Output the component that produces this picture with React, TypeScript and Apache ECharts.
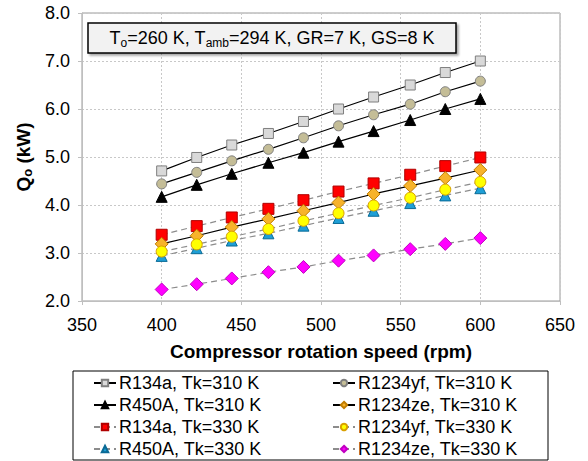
import React, { useEffect, useRef } from "react";
import * as echarts from "echarts";

const rpm = [400, 422, 444, 467, 489, 511, 533, 556, 578, 600];
const r134a310 = [4.71, 4.99, 5.25, 5.49, 5.74, 6.0, 6.25, 6.5, 6.76, 7.0];
const r1234yf310 = [4.44, 4.68, 4.92, 5.16, 5.4, 5.65, 5.88, 6.1, 6.36, 6.58];
const r450a310 = [4.17, 4.42, 4.65, 4.88, 5.09, 5.32, 5.54, 5.77, 6.0, 6.21];
const r1234ze310 = [3.19, 3.36, 3.54, 3.71, 3.88, 4.05, 4.23, 4.4, 4.56, 4.73];
const r134a330 = [3.38, 3.56, 3.74, 3.92, 4.1, 4.28, 4.45, 4.63, 4.81, 4.99];
const r1234yf330 = [3.03, 3.18, 3.34, 3.5, 3.67, 3.83, 3.99, 4.15, 4.32, 4.48];
const r450a330 = [2.94, 3.1, 3.26, 3.41, 3.57, 3.73, 3.88, 4.04, 4.2, 4.35];
const r1234ze330 = [2.24, 2.35, 2.47, 2.6, 2.71, 2.84, 2.95, 3.08, 3.19, 3.31];

const xTicks = [350, 400, 450, 500, 550, 600, 650];
const yTicks = [2, 3, 4, 5, 6, 7, 8];

const FONT = "'Liberation Sans', Arial, sans-serif";

type Spec = {
  name: string;
  values: number[];
  symbol: string;
  fill: string;
  border: string;
  size: number;
  dashed: boolean;
};

const specs: Spec[] = [
  { name: "R134a, Tk=310 K", values: r134a310, symbol: "rect", fill: "#d9d9d9", border: "#7f7f7f", size: 10, dashed: false },
  { name: "R450A, Tk=310 K", values: r450a310, symbol: "triangle", fill: "#000000", border: "#000000", size: 11, dashed: false },
  { name: "R134a, Tk=330 K", values: r134a330, symbol: "rect", fill: "#ff0000", border: "#b00000", size: 11, dashed: true },
  { name: "R450A, Tk=330 K", values: r450a330, symbol: "triangle", fill: "#1e9fd6", border: "#0a6a96", size: 11, dashed: true },
  { name: "R1234yf, Tk=310 K", values: r1234yf310, symbol: "circle", fill: "#c4bd97", border: "#7f7f7f", size: 10, dashed: false },
  { name: "R1234ze, Tk=310 K", values: r1234ze310, symbol: "diamond", fill: "#f7b32b", border: "#c07d00", size: 13, dashed: false },
  { name: "R1234yf, Tk=330 K", values: r1234yf330, symbol: "circle", fill: "#ffff00", border: "#d9a000", size: 11, dashed: true },
  { name: "R1234ze, Tk=330 K", values: r1234ze330, symbol: "diamond", fill: "#ff00ff", border: "#c000c0", size: 13, dashed: true },
];

export default function App() {
  const ref = useRef<HTMLDivElement>(null);
  useEffect(() => {
    if (!ref.current) return;
    const chart = echarts.init(ref.current, undefined, { renderer: "svg" });
    const series = specs.map((s) => ({
      name: s.name,
      type: "line",
      data: rpm.map((x, i) => [x, s.values[i]]),
      symbol: s.symbol,
      symbolSize: s.size,
      showSymbol: true,
      lineStyle: s.dashed
        ? { color: "#8c8c8c", width: 1.2, type: [6, 4] }
        : { color: "#000000", width: 1.2, type: "solid" },
      itemStyle: { color: s.fill, borderColor: s.border, borderWidth: 1 },
      emphasis: { disabled: true },
    }));
    const legendBase = {
      orient: "vertical",
      itemWidth: 22,
      itemHeight: 8,
      itemGap: 2,
      padding: 0,
      height: 90,
      textStyle: { fontSize: 18, fontFamily: FONT, color: "#000", lineHeight: 20, padding: [0, 0, 0, -2] },
      selectedMode: false,
    };
    chart.setOption({
      animation: false,
      textStyle: { fontFamily: FONT },
      grid: {
        left: 82,
        right: 28,
        top: 13,
        bottom: 160,
        show: true,
        borderColor: "#9a9a9a",
        borderWidth: 1,
      },
      xAxis: {
        type: "value",
        min: xTicks[0],
        max: xTicks[xTicks.length - 1],
        interval: 50,
        name: "Compressor rotation speed (rpm)",
        nameLocation: "middle",
        nameGap: 41,
        nameTextStyle: { fontSize: 19, fontWeight: "bold", color: "#000", fontFamily: FONT },
        axisLine: { lineStyle: { color: "#bfbfbf" } },
        axisTick: { show: true, length: 4, lineStyle: { color: "#bfbfbf" } },
        axisLabel: { fontSize: 18, color: "#000", margin: 15, fontFamily: FONT },
        splitLine: { show: true, lineStyle: { color: "#c8c8c8", type: [2, 2] } },
      },
      yAxis: {
        type: "value",
        min: yTicks[0],
        max: yTicks[yTicks.length - 1],
        interval: 1,
        name: "{a|Q}{s|o}{a| (kW)}",
        nameLocation: "middle",
        nameRotate: 90,
        nameGap: 44,
        nameTextStyle: {
          rich: {
            a: { fontSize: 19, fontWeight: "bold", color: "#000", fontFamily: FONT, lineHeight: 22, verticalAlign: "middle" },
            s: { fontSize: 13, fontWeight: "bold", color: "#000", fontFamily: FONT, lineHeight: 12, verticalAlign: "bottom" },
          },
        },
        axisLine: { show: true, lineStyle: { color: "#bfbfbf" } },
        axisTick: { show: true, length: 4, lineStyle: { color: "#bfbfbf" } },
        axisLabel: {
          fontSize: 18,
          color: "#000",
          margin: 12,
          fontFamily: FONT,
          formatter: (v: number) => v.toFixed(1),
        },
        splitLine: { show: true, lineStyle: { color: "#c8c8c8", type: [2, 2] } },
      },
      legend: [
        { ...legendBase, left: 93, top: 373, data: specs.slice(0, 4).map((s) => s.name) },
        { ...legendBase, left: 332, top: 373, data: specs.slice(4).map((s) => s.name) },
      ],
      graphic: [
        {
          type: "rect",
          shape: { x: 73, y: 371, width: 475, height: 89 },
          style: { fill: "none", stroke: "#000", lineWidth: 1 },
          silent: true,
        },
        {
          type: "rect",
          shape: { x: 88, y: 23, width: 368, height: 30 },
          style: {
            fill: "#f2f2f2",
            stroke: "#000",
            lineWidth: 1.5,
            shadowBlur: 2,
            shadowOffsetX: 2,
            shadowOffsetY: 2,
            shadowColor: "rgba(0,0,0,0.35)",
          },
          silent: true,
          z: 10,
        },
        {
          type: "text",
          x: 272,
          y: 38,
          z: 11,
          silent: true,
          style: {
            text: "{a|T}{s|o}{a|=260 K, T}{s|amb}{a|=294 K, GR=7 K, GS=8 K}",
            align: "center",
            verticalAlign: "middle",
            rich: {
              a: { fontSize: 18, color: "#000", fontFamily: FONT, lineHeight: 22, verticalAlign: "middle" },
              s: { fontSize: 12, color: "#000", fontFamily: FONT, lineHeight: 12, verticalAlign: "bottom" },
            },
          },
        },
      ],
      series,
    });
    return () => chart.dispose();
  }, []);
  return (
    <div
      ref={ref}
      style={{ position: "absolute", left: 0, top: 0, width: 588, height: 461, background: "#fff" }}
    />
  );
}
